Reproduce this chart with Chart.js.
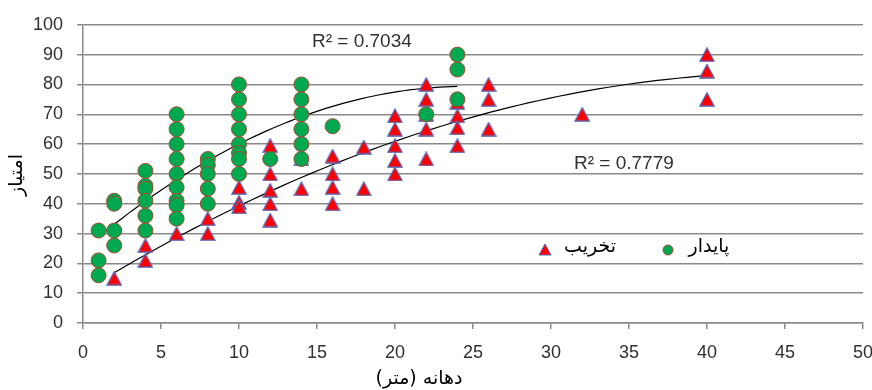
<!DOCTYPE html>
<html>
<head>
<meta charset="utf-8">
<script src="https://cdn.jsdelivr.net/npm/chart.js@4.4.1/dist/chart.umd.min.js"></script>
<style>
  html, body { margin: 0; padding: 0; background: #fff; }
  #wrap { width: 872px; height: 390px; }
</style>
</head>
<body>
<div id="wrap"><canvas id="chart"></canvas></div>
<script>
// پایدار (stable) - green circles
const stableX = [1, 1, 1, 2, 2, 2, 2, 4, 4, 4, 4, 4, 4, 6, 6, 6, 6, 6, 6, 6, 6, 6, 8, 8, 8, 8, 8,
                 10, 10, 10, 10, 10, 10, 10, 10, 12, 14, 14, 14, 14, 14, 14, 16, 22, 24, 24, 24];
const stableY = [31, 21, 16, 41, 40, 31, 26, 51, 46, 45, 41, 36, 31, 70, 65, 60, 55, 50, 45.5, 41, 39.5, 35, 55, 53, 50, 45, 40,
                 80, 75, 70, 65, 60, 57, 55, 50, 55, 80, 75, 70, 65, 60, 55, 66, 70, 90, 85, 75];

// تخریب (eroded) - red triangles
const erodedX = [2, 4, 4, 6, 8, 8, 10, 10, 10, 12, 12, 12, 12, 12, 14, 14, 16, 16, 16, 16, 18, 18,
                 20, 20, 20, 20, 20, 22, 22, 22, 22, 22, 24, 24, 24, 24, 26, 26, 26, 32, 40, 40, 40];
const erodedY = [15, 26, 21, 30, 35, 30, 45.5, 40.5, 39, 59.5, 50, 44.5, 40, 34.5, 55, 45, 56, 50, 45.5, 40, 59, 45,
                 69.5, 65, 59.5, 54.5, 50, 80, 75, 70, 65, 55, 74, 69.5, 65.5, 59.5, 80, 75, 65, 70, 90, 84.5, 75];

const xTicks = [0, 5, 10, 15, 20, 25, 30, 35, 40, 45, 50];
const yTicks = [0, 10, 20, 30, 40, 50, 60, 70, 80, 90, 100];

const seriesNames = ['پایدار', 'تخریب'];
const r2Labels = ['R² = 0.7034', 'R² = 0.7779'];
const xTitle = 'دهانه (متر)';
const yTitle = 'امتیاز';

const GREEN = '#00a84f';
const GREEN_EDGE = '#a04a32';
const RED = '#ff0000';
const RED_EDGE = '#4a6cc0';
const GRID = '#8a8a8a';

function toPoints(xs, ys) {
    return xs.map((x, i) => ({ x: x, y: ys[i] }));
}

// triangle marker centred on its bounding box
function triangleMarker(w, h) {
    const c = document.createElement('canvas');
    c.width = w;
    c.height = h;
    const g = c.getContext('2d');
    g.beginPath();
    g.moveTo(w / 2, 0.8);
    g.lineTo(w - 0.8, h - 0.8);
    g.lineTo(0.8, h - 0.8);
    g.closePath();
    g.fillStyle = RED;
    g.fill();
    g.strokeStyle = RED_EDGE;
    g.lineWidth = 1.2;
    g.stroke();
    return c;
}

// second order least squares fit, same as a spreadsheet polynomial trendline
function quadFit(xs, ys) {
    const s = [0, 0, 0, 0, 0];
    const t = [0, 0, 0];
    xs.forEach((x, i) => {
        for (let k = 0; k < 5; k++) s[k] += Math.pow(x, k);
        for (let k = 0; k < 3; k++) t[k] += ys[i] * Math.pow(x, k);
    });
    const m = [
        [s[0], s[1], s[2], t[0]],
        [s[1], s[2], s[3], t[1]],
        [s[2], s[3], s[4], t[2]]
    ];
    for (let c = 0; c < 3; c++) {
        for (let r = c + 1; r < 3; r++) {
            const f = m[r][c] / m[c][c];
            for (let k = c; k < 4; k++) m[r][k] -= f * m[c][k];
        }
    }
    const coef = [0, 0, 0];
    for (let r = 2; r >= 0; r--) {
        let v = m[r][3];
        for (let k = r + 1; k < 3; k++) v -= m[r][k] * coef[k];
        coef[r] = v / m[r][r];
    }
    return coef;
}

function trendPoints(xs, ys) {
    const c = quadFit(xs, ys);
    const lo = Math.min(...xs), hi = Math.max(...xs);
    const pts = [];
    for (let i = 0; i <= 60; i++) {
        const x = lo + (hi - lo) * i / 60;
        pts.push({ x: x, y: c[0] + c[1] * x + c[2] * x * x });
    }
    return pts;
}

// R² captions, legend and axis titles
const overlay = {
    id: 'overlay',
    afterDraw(chart) {
        const ctx = chart.ctx;
        ctx.save();
        ctx.fillStyle = '#303030';
        ctx.font = '19px "Liberation Sans", Arial, sans-serif';
        ctx.textBaseline = 'middle';
        ctx.textAlign = 'left';
        ctx.fillText(r2Labels[0], 312, 42);
        ctx.fillText(r2Labels[1], 574, 164);

        // legend
        ctx.direction = 'rtl';
        ctx.textAlign = 'center';
        ctx.font = '19px "DejaVu Sans", sans-serif';
        ctx.fillStyle = '#000';
        ctx.fillText(seriesNames[1], 590, 247);
        ctx.fillText(seriesNames[0], 709, 247);

        ctx.beginPath();
        ctx.moveTo(545, 244);
        ctx.lineTo(551, 255);
        ctx.lineTo(539, 255);
        ctx.closePath();
        ctx.fillStyle = RED;
        ctx.fill();
        ctx.strokeStyle = RED_EDGE;
        ctx.lineWidth = 1;
        ctx.stroke();

        ctx.beginPath();
        ctx.arc(668, 250, 5, 0, Math.PI * 2);
        ctx.fillStyle = GREEN;
        ctx.fill();
        ctx.strokeStyle = GREEN_EDGE;
        ctx.stroke();

        // axis titles
        ctx.fillStyle = '#000';
        ctx.font = '19px "DejaVu Sans", sans-serif';
        ctx.fillText(xTitle, 419, 379);
        ctx.translate(17, 175);
        ctx.rotate(-Math.PI / 2);
        ctx.fillText(yTitle, 0, 0);
        ctx.restore();
    }
};

const ctx = document.getElementById('chart').getContext('2d');
new Chart(ctx, {
    type: 'scatter',
    data: {
        datasets: [
            {
                label: seriesNames[0],
                data: toPoints(stableX, stableY),
                pointStyle: 'circle',
                pointRadius: 7.5,
                pointBackgroundColor: GREEN,
                pointBorderColor: GREEN_EDGE,
                pointBorderWidth: 1
            },
            {
                label: seriesNames[1],
                data: toPoints(erodedX, erodedY),
                pointStyle: triangleMarker(16, 15)
            },
            {
                type: 'line',
                data: trendPoints(stableX, stableY),
                borderColor: '#000',
                borderWidth: 1.2,
                pointRadius: 0,
                fill: false
            },
            {
                type: 'line',
                data: trendPoints(erodedX, erodedY),
                borderColor: '#000',
                borderWidth: 1.2,
                pointRadius: 0,
                fill: false
            }
        ]
    },
    options: {
        responsive: true,
        maintainAspectRatio: false,
        animation: false,
        layout: { padding: { top: 22, right: 9, left: 0, bottom: 0 } },
        plugins: { legend: { display: false }, tooltip: { enabled: false } },
        scales: {
            x: {
                type: 'linear',
                min: 0,
                max: 50,
                afterBuildTicks: s => { s.ticks = xTicks.map(v => ({ value: v })); },
                afterFit: s => {
                    s.height = 67;
                    s.paddingLeft = 0;
                    s.paddingRight = 0;
                },
                ticks: {
                    color: '#303030',
                    padding: 13,
                    font: { family: '"Liberation Sans", Arial, sans-serif', size: 18 },
                    maxRotation: 0
                },
                grid: { drawOnChartArea: false, color: GRID, tickLength: 6, lineWidth: 1.5 },
                border: { color: GRID, width: 1.5 }
            },
            y: {
                min: 0,
                max: 100,
                afterBuildTicks: s => { s.ticks = yTicks.map(v => ({ value: v })); },
                afterFit: s => { s.width = 83; },
                ticks: {
                    color: '#303030',
                    padding: 14,
                    font: { family: '"Liberation Sans", Arial, sans-serif', size: 18 }
                },
                grid: { color: GRID, tickLength: 6, lineWidth: 1.5 },
                border: { color: GRID, width: 1.5 }
            }
        }
    },
    plugins: [overlay]
});
</script>
</body>
</html>
